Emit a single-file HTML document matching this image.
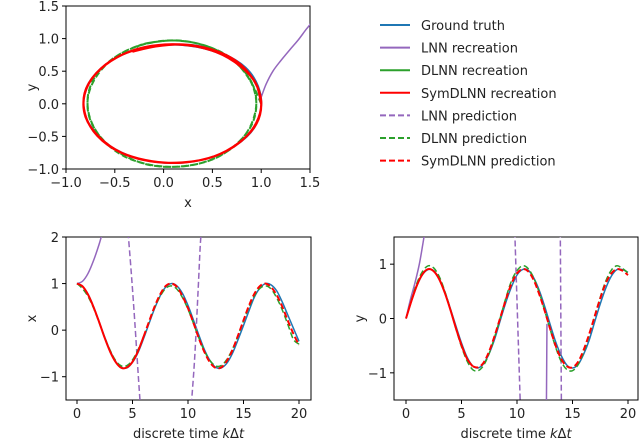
<!DOCTYPE html>
<html><head><meta charset="utf-8"><style>
body{margin:0;background:#fff}
svg{display:block;font-family:"DejaVu Sans","Liberation Sans",sans-serif}
</style></head><body>
<svg id="fig" width="640" height="443" viewBox="0 0 640 443" xmlns="http://www.w3.org/2000/svg">
<defs>
<clipPath id="c1"><rect x="66" y="6" width="244" height="163"/></clipPath>
<clipPath id="c2"><rect x="66" y="237" width="245" height="163"/></clipPath>
<clipPath id="c3"><rect x="394" y="237" width="244" height="163"/></clipPath>
</defs>
<g id="g1"></g>
<g id="g2"></g>
<g id="g3"></g>
<g id="legend"></g>
</svg>
<script>
const times=[0,0.5,1,1.5,2,2.5,3,3.5,4,4.5,5,5.5,6,6.5,7,7.5,8,8.5,9,9.5,10,10.5,11,11.5,12,12.5,13,13.5,14,14.5,15,15.5,16,16.5,17,17.5,18,18.5,19,19.5,20];
const truthX=[1,0.94,0.77,0.5,0.18,-0.15,-0.45,-0.68,-0.8,-0.81,-0.69,-0.48,-0.18,0.15,0.47,0.74,0.93,1,0.95,0.79,0.53,0.21,-0.12,-0.43,-0.66,-0.8,-0.81,-0.71,-0.5,-0.21,0.1,0.42,0.72,0.91,1,0.97,0.84,0.6,0.32,0.04,-0.24];
const truthY=[0,0.33,0.61,0.81,0.9,0.88,0.73,0.49,0.18,-0.14,-0.45,-0.71,-0.87,-0.91,-0.83,-0.64,-0.37,-0.03,0.3,0.58,0.8,0.9,0.89,0.75,0.52,0.22,-0.12,-0.44,-0.69,-0.86,-0.91,-0.85,-0.66,-0.4,-0.06,0.27,0.56,0.78,0.9,0.9,0.85];
const dlnnX=[1,0.89,0.72,0.47,0.16,-0.16,-0.44,-0.66,-0.77,-0.76,-0.64,-0.42,-0.14,0.18,0.49,0.73,0.9,0.95,0.88,0.7,0.45,0.14,-0.18,-0.46,-0.66,-0.77,-0.76,-0.63,-0.41,-0.12,0.2,0.5,0.75,0.9,0.95,0.88,0.69,0.43,0.12,-0.2,-0.3];
const dlnnY=[0,0.35,0.66,0.87,0.97,0.93,0.77,0.5,0.17,-0.19,-0.52,-0.78,-0.94,-0.96,-0.86,-0.64,-0.33,0.02,0.38,0.69,0.88,0.97,0.92,0.75,0.48,0.14,-0.21,-0.54,-0.8,-0.94,-0.96,-0.85,-0.62,-0.31,0.05,0.39,0.69,0.89,0.97,0.92,0.84];
const symX=[1,0.94,0.76,0.49,0.17,-0.17,-0.47,-0.69,-0.81,-0.8,-0.68,-0.45,-0.14,0.19,0.51,0.77,0.95,1,0.93,0.73,0.47,0.15,-0.19,-0.48,-0.7,-0.81,-0.8,-0.66,-0.43,-0.12,0.21,0.53,0.79,0.95,1,0.92,0.75,0.5,0.2,-0.08,-0.32];
const symY=[0,0.33,0.62,0.82,0.91,0.87,0.72,0.47,0.16,-0.18,-0.49,-0.74,-0.88,-0.9,-0.81,-0.6,-0.31,0.02,0.35,0.64,0.83,0.91,0.87,0.71,0.45,0.14,-0.2,-0.51,-0.75,-0.88,-0.9,-0.8,-0.58,-0.29,0.04,0.37,0.65,0.83,0.91,0.88,0.8];
const lnnRecT=[0,0.5,1,1.5,2,2.3];
const lnnRecX=[1,1.05,1.22,1.5,1.85,2.1];
const lnnPredXT=[4.6,4.9,5.2,5.5,5.7,10.3,10.6,10.9,11.1,11.2];
const lnnPredXV=[2.1,1.2,0.2,-0.9,-1.6,-1.6,-0.6,0.8,1.8,2.1];
const lnnRecYT=[0,0.4,0.8,1.2,1.5,1.7];
const lnnRecYV=[0,0.35,0.65,1.0,1.35,1.6];
const lnnPredYT=[[9.8,10.3],[13.9,14.0]];
const lnnPredYV=[[1.6,-1.6],[1.6,-1.6]];
const lnnSpikeT=[12.65,12.7];
const lnnSpikeV=[-1.6,-0.1];
const lnnPhaseX=[1,1.05,1.12,1.2,1.3,1.38,1.46,1.52];
const lnnPhaseY=[0.1,0.3,0.5,0.66,0.84,0.98,1.14,1.25];
const xTicks1=[-1,-0.5,0,0.5,1,1.5], yTicks1=[-1,-0.5,0,0.5,1,1.5];
const tTicks=[0,5,10,15,20], xTicks2=[-1,0,1,2], yTicks3=[-1,0,1];

const NS="http://www.w3.org/2000/svg";
function mk(tag,attrs,parent){const e=document.createElementNS(NS,tag);for(const k in attrs)e.setAttribute(k,attrs[k]);parent.appendChild(e);return e;}
function lin(d0,d1,r0,r1){return v=>r0+(v-d0)/(d1-d0)*(r1-r0);}
function fmt(v,d){return (v<0?"\u2212":"")+Math.abs(v).toFixed(d);}
const C={truth:"#1f77b4",lnn:"#9467bd",dlnn:"#2ca02c",sym:"#ff0000"};
function smooth(pts){let d="M"+pts[0][0]+","+pts[0][1];for(let i=0;i<pts.length-1;i++){const p0=pts[i-1]||pts[i],p1=pts[i],p2=pts[i+1],p3=pts[i+2]||p2;d+=" C"+(p1[0]+(p2[0]-p0[0])/6)+","+(p1[1]+(p2[1]-p0[1])/6)+" "+(p2[0]-(p3[0]-p1[0])/6)+","+(p2[1]-(p3[1]-p1[1])/6)+" "+p2[0]+","+p2[1];}return d;}
function series(g,xs,ys,sx,sy,color,dash,w,name,clip){const p=mk("path",{d:smooth(xs.map((x,i)=>[sx(x),sy(ys[i])])),fill:"none",stroke:color,"stroke-width":w,"clip-path":"url(#"+clip+")"},g);if(dash)p.setAttribute("stroke-dasharray",dash);

return p;}
function axes(g,box,sx,sy,xt,yt,dx,dy,xl,yl){
 const fr=mk("rect",{x:box[0],y:box[1],width:box[2]-box[0],height:box[3]-box[1],fill:"none",stroke:"#000","stroke-width":1},g);
 
 
 xt.forEach(v=>{const x=sx(v);mk("line",{x1:x,x2:x,y1:box[3],y2:box[3]+4,stroke:"#000"},g);const t=mk("text",{x:x,y:box[3]+18,"font-size":13,"text-anchor":"middle",fill:"#222"},g);t.textContent=fmt(v,dx);
 
 });
 yt.forEach(v=>{const y=sy(v);mk("line",{x1:box[0]-4,x2:box[0],y1:y,y2:y,stroke:"#000"},g);const t=mk("text",{x:box[0]-7,y:y+5,"font-size":13,"text-anchor":"end",fill:"#222"},g);t.textContent=fmt(v,dy);
 
 });
 const a=mk("text",{x:(box[0]+box[2])/2,y:box[3]+38,"font-size":13,"text-anchor":"middle",fill:"#222"},g);a.innerHTML=xl;
 
 
 const b=mk("text",{x:box[0]-30,y:(box[1]+box[3])/2,"font-size":13,"text-anchor":"middle",fill:"#222",transform:"rotate(-90 "+(box[0]-30)+" "+((box[1]+box[3])/2)+")"},g);b.textContent=yl;
 
 
}
(function(){const g=document.getElementById("g1");const sx=lin(-1,1.5,66,310),sy=lin(-1,1.5,169,6);
 axes(g,[66,6,310,169],sx,sy,xTicks1,yTicks1,1,1,"x","y");
 series(g,truthX,truthY,sx,sy,C.truth,null,1.5,"ground-truth-orbit","c1");
 series(g,lnnPhaseX,lnnPhaseY,sx,sy,C.lnn,null,1.5,"lnn-recreation-orbit","c1");
 series(g,dlnnX,dlnnY,sx,sy,C.dlnn,"6,3",2,"dlnn-prediction-orbit","c1");
 series(g,symX,symY,sx,sy,C.sym,null,2.2,"symdlnn-orbit","c1");
})();
(function(){const g=document.getElementById("g2");const sx=lin(0,20,77,299),sy=lin(-1.5,2,400,237);
 axes(g,[66,237,311,400],sx,sy,tTicks,xTicks2,0,0,"discrete time <tspan font-style='italic'>k</tspan>Δ<tspan font-style='italic'>t</tspan>","x");
 series(g,times,truthX,sx,sy,C.truth,null,1.5,"ground-truth-x","c2");
 series(g,lnnRecT,lnnRecX,sx,sy,C.lnn,null,1.5,"lnn-recreation-x","c2");
 series(g,lnnPredXT.slice(0,5),lnnPredXV.slice(0,5),sx,sy,C.lnn,"6,3",1.5,"lnn-prediction-x-1","c2");
 series(g,lnnPredXT.slice(5),lnnPredXV.slice(5),sx,sy,C.lnn,"6,3",1.5,"lnn-prediction-x-2","c2");
 series(g,times,dlnnX,sx,sy,C.dlnn,"6,3",1.5,"dlnn-prediction-x","c2");
 series(g,times.slice(0,13),symX.slice(0,13),sx,sy,C.sym,null,2,"symdlnn-recreation-x","c2");
 series(g,times.slice(12),symX.slice(12),sx,sy,C.sym,"6,3",2,"symdlnn-prediction-x","c2");
})();
(function(){const g=document.getElementById("g3");const sx=lin(0,20,406,628),sy=lin(-1.5,1.5,400,237);
 axes(g,[394,237,638,400],sx,sy,tTicks,yTicks3,0,0,"discrete time <tspan font-style='italic'>k</tspan>Δ<tspan font-style='italic'>t</tspan>","y");
 series(g,times,truthY,sx,sy,C.truth,null,1.5,"ground-truth-y","c3");
 series(g,lnnRecYT,lnnRecYV,sx,sy,C.lnn,null,1.5,"lnn-recreation-y","c3");
 lnnPredYT.forEach((t,i)=>series(g,t,lnnPredYV[i],sx,sy,C.lnn,"6,3",1.5,"lnn-prediction-y","c3"));
 series(g,lnnSpikeT,lnnSpikeV,sx,sy,C.lnn,null,1.5,"lnn-spike-y","c3");
 series(g,times,dlnnY,sx,sy,C.dlnn,"6,3",1.5,"dlnn-prediction-y","c3");
 series(g,times.slice(0,13),symY.slice(0,13),sx,sy,C.sym,null,2,"symdlnn-recreation-y","c3");
 series(g,times.slice(12),symY.slice(12),sx,sy,C.sym,"6,3",2,"symdlnn-prediction-y","c3");
})();
const legLabels=["Ground truth","LNN recreation","DLNN recreation","SymDLNN recreation","LNN prediction","DLNN prediction","SymDLNN prediction"];
const legColors=[C.truth,C.lnn,C.dlnn,C.sym,C.lnn,C.dlnn,C.sym];
(function(){const g=document.getElementById("legend");legLabels.forEach((l,i)=>{const y=25+i*22.6;
 const ln=mk("line",{x1:380,x2:410,y1:y,y2:y,stroke:legColors[i],"stroke-width":2},g);if(i>=4)ln.setAttribute("stroke-dasharray","6,3");
 
 
 const t=mk("text",{x:421,y:y+5,"font-size":13,fill:"#222"},g);t.textContent=l;
 
 });})();
</script>
</body></html>
